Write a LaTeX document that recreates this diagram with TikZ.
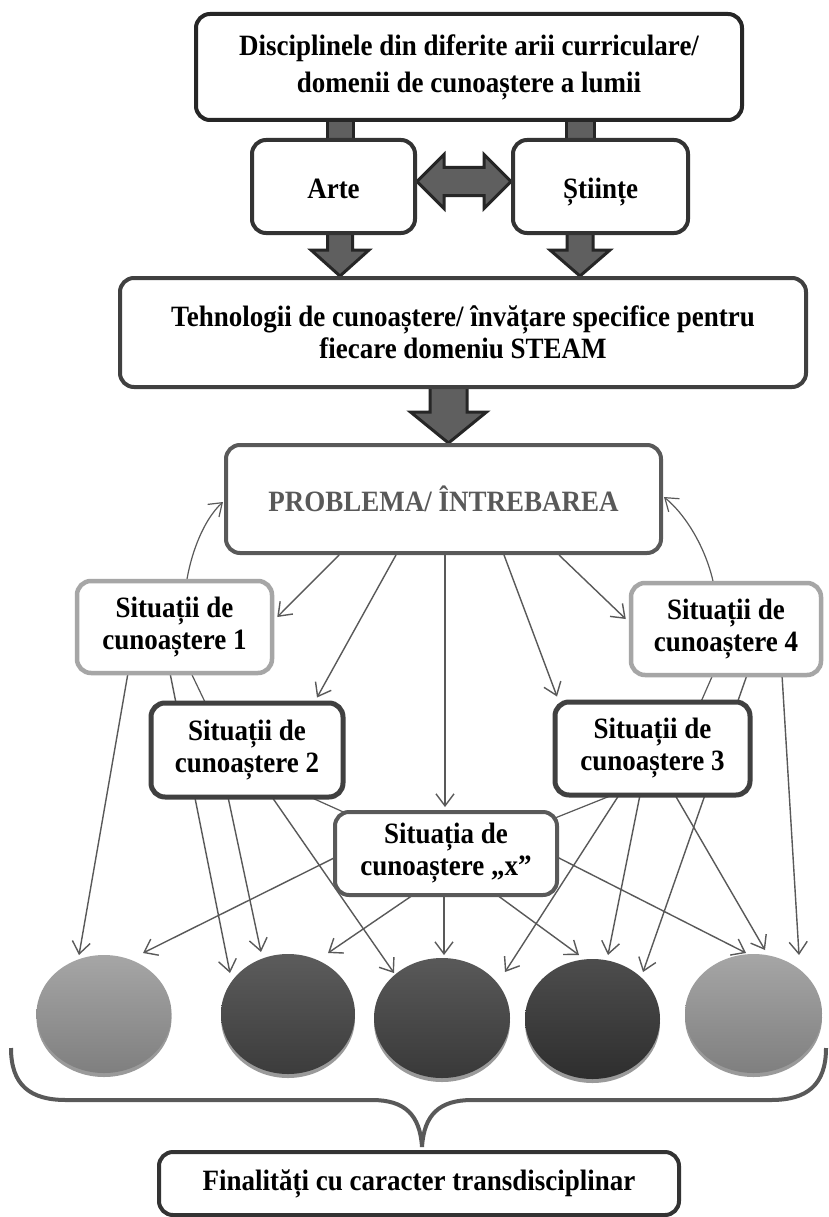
\documentclass[tikz,border=0pt]{standalone}
\usepackage{fontspec}
\setmainfont{Liberation Serif}[FakeStretch=0.915]
\usetikzlibrary{shapes.geometric,arrows.meta,calc}
\pgfdeclarelayer{bg}
\pgfdeclarelayer{paper}
\pgfsetlayers{paper,bg,main}
\definecolor{c26}{HTML}{262626}
\definecolor{c33}{HTML}{333333}
\definecolor{c40}{HTML}{404040}
\definecolor{c59}{HTML}{595959}
\definecolor{c5f}{HTML}{5F5F5F}
\definecolor{cA6}{HTML}{A6A6A6}
\definecolor{c99}{HTML}{9A9A9A}
\definecolor{eLt}{HTML}{A6A6A6}
\definecolor{eLb}{HTML}{7F7F7F}
\definecolor{eAt}{HTML}{5C5C5C}
\definecolor{eAb}{HTML}{3C3C3C}
\definecolor{eBt}{HTML}{595959}
\definecolor{eBb}{HTML}{393939}
\definecolor{eCt}{HTML}{4D4D4D}
\definecolor{eCb}{HTML}{2E2E2E}
\newcommand\downblock[5]{%
  \draw[blockarr] ($(#1)+(-#3,0)$) -- ($(#2)+(-#3,-#5)$) -- ($(#2)+(-#4,-#5)$) -- (#2)
    -- ($(#2)+(#4,-#5)$) -- ($(#2)+(#3,-#5)$) -- ($(#1)+(#3,0)$) -- cycle;}
\begin{document}
\begin{tikzpicture}[x=1pt,y=-1pt,
  box/.style={draw, rounded corners=14pt, fill=white, align=center, inner sep=0pt,
    line width=4pt, font=\bfseries\fontsize{29.5pt}{32pt}\selectfont},
  conn/.style={draw=c59, line width=1.4pt, -{Straight Barb[length=12pt,width=18pt]}},
  cyc/.style={draw=c59, line width=1.2pt},
  blockarr/.style={fill=c5f, draw=c26, line width=3pt, line join=miter},
  ball/.style={ellipse, inner sep=0pt},
  rim/.style={fill=c99},
  bracestyle/.style={draw=c59, line width=4pt}]
\useasboundingbox (0,0) rectangle (828,1217);
\begin{pgfonlayer}{paper}
  \fill[white] (0,0) rectangle (828,1217);
\end{pgfonlayer}

% boxes
\node[box, draw=c26, minimum width=546pt, minimum height=106pt,
  font=\bfseries\fontsize{29.5pt}{37pt}\selectfont] (top) at (469,67)
  {Disciplinele din diferite arii curriculare/\\domenii de cunoaștere a lumii};
\node[box, draw=c33, minimum width=163pt, minimum height=93pt, text height=24pt, text depth=0pt] (arte) at (333.5,186.5) {Arte};
\node[box, draw=c33, minimum width=175pt, minimum height=93pt, text height=24pt, text depth=0pt] (stiinte) at (600.5,186.5) {Științe};
\node[box, draw=c40, minimum width=686pt, minimum height=109pt] (tech) at (463,332.5)
  {Tehnologii de cunoaștere/ învățare specifice pentru\\fiecare domeniu STEAM};
\node[box, draw=c59, text=c59, minimum width=435pt, minimum height=108pt] (pb) at (443.5,499)
  {PROBLEMA/ ÎNTREBAREA};
\node[box, draw=cA6, line width=4.5pt, minimum width=195pt, minimum height=92pt] (s1) at (174.5,627)
  {Situații de\\cunoaștere 1};
\node[box, draw=cA6, line width=4.5pt, minimum width=190pt, minimum height=92pt] (s4) at (726,629)
  {Situații de\\cunoaștere 4};
\node[box, draw=c40, line width=5pt, minimum width=192pt, minimum height=94pt] (s2) at (247,750)
  {Situații de\\cunoaștere 2};
\node[box, draw=c40, line width=5pt, minimum width=195pt, minimum height=93pt] (s3) at (652.5,748.5)
  {Situații de\\cunoaștere 3};
\node[box, draw=c59, minimum width=222pt, minimum height=83pt] (sx) at (446,853.5)
  {Situația de\\cunoaștere „x”};
\node[box, draw=c33, minimum width=520pt, minimum height=63pt] (fin) at (419,1183.5)
  {Finalități cu caracter transdisciplinar};

% balls
\node[ball, minimum width=135pt, minimum height=118pt, top color=eLt, bottom color=eLb] (e1) at (104,1014) {};
\node[ball, minimum width=134pt, minimum height=120pt, top color=eAt, bottom color=eAb] (e2) at (288,1014) {};
\node[ball, minimum width=136pt, minimum height=120pt, top color=eBt, bottom color=eBb] (e3) at (442,1018) {};
\node[ball, minimum width=135pt, minimum height=120pt, top color=eCt, bottom color=eCb] (e4) at (592.5,1019) {};
\node[ball, minimum width=137pt, minimum height=119pt, top color=eLt, bottom color=eLb] (e5) at (753.5,1013.5) {};

% brace
\coordinate (bl) at ($(e1)+(-93,34)$);
\coordinate (br) at ($(e5)+(72.5,34.5)$);
\coordinate (cusp) at ($(fin.north)+(3,-3)$);
\draw[bracestyle] (bl) .. controls (11,1085) and (30,1100) .. (66,1100) -- (372,1100)
  .. controls (405,1100) and (420,1115) .. (cusp)
  .. controls (424,1115) and (439,1100) .. (472,1100) -- (771,1100)
  .. controls (807,1100) and (826,1085) .. (br);

\begin{pgfonlayer}{bg}
  % rims under balls
  \fill[rim] ($(e1)+(0,4)$) ellipse [x radius=67.5pt, y radius=59pt];
  \fill[rim] ($(e2)+(0,4)$) ellipse [x radius=67pt, y radius=60pt];
  \fill[rim] ($(e3)+(0,4)$) ellipse [x radius=68pt, y radius=60pt];
  \fill[rim] ($(e4)+(0,4)$) ellipse [x radius=67.5pt, y radius=60pt];
  \fill[rim] ($(e5)+(0,4)$) ellipse [x radius=68.5pt, y radius=59.5pt];

  % block arrows
  \coordinate (aTop) at ($(arte.south)+(6.5,-3)$);
  \coordinate (aTip) at (aTop |- tech.north);
  \coordinate (sTop) at ($(stiinte.south)+(-20.5,-3)$);
  \coordinate (sTip) at (sTop |- tech.north);
  \coordinate (stA1) at (aTop |- top.south);
  \coordinate (stA2) at (aTop |- arte.north);
  \coordinate (stS1) at (sTop |- top.south);
  \coordinate (stS2) at (sTop |- stiinte.north);
  \draw[blockarr] ($(stA1)+(-13,-4)$) rectangle ($(stA2)+(13,6)$);
  \draw[blockarr] ($(stS1)+(-14,-4)$) rectangle ($(stS2)+(14,6)$);
  \downblock{aTop}{aTip}{12.5}{29}{26}
  \downblock{sTop}{sTip}{13}{30}{26}
  \coordinate (bTop) at ($(pb.north |- tech.south)+(5,-3)$);
  \coordinate (bTip) at ($(pb.north)+(5,0)$);
  \downblock{bTop}{bTip}{18.5}{38}{31}
  \coordinate (L) at ($(arte.east)+(0,-5)$);
  \coordinate (R) at ($(stiinte.west)+(0,-5)$);
  \draw[blockarr] (L) -- ($(L)+(27,-27)$) -- ($(L)+(27,-14)$) -- ($(R)+(-27,-14)$)
    -- ($(R)+(-27,-27)$) -- (R) -- ($(R)+(-27,27)$) -- ($(R)+(-27,14)$)
    -- ($(L)+(27,14)$) -- ($(L)+(27,27)$) -- cycle;

  % problem arrows
  \coordinate (pbx) at ($(pb.south |- sx.north)+(1.5,-3)$);
  \draw[conn] ($(pb.south)+(-104.5,0)$) -- ($(s1.east)+(3,-10)$);
  \draw[conn] ($(pb.south)+(-47.5,0)$) -- ($(s2.north)+(70,-3)$);
  \draw[conn] ($(pb.south)+(1.5,0)$) -- (pbx);
  \draw[conn] ($(pb.south)+(60.5,0)$) -- ($(s3.north)+(-95.5,-3)$);
  \draw[conn] ($(pb.south)+(115.5,0)$) -- ($(s4.west)+(-3,-10)$);

  % cycle curves
  \draw[cyc] ($(sx)+(-86,-34)$) -- ($(s2)+(33,33.5)$);
  \draw[cyc] ($(s1)+(8,28)$) -- ($(s2)+(-31,-25)$);
  \draw[cyc, -{Straight Barb[length=12pt,width=17pt]}] ($(s1)+(10,-27)$)
    .. controls +(2.5,-40) and +(-20,18) .. ($(pb.west)+(-1,3)$);
  \draw[cyc] ($(sx)+(84,-25.5)$) -- ($(s3)+(-12.5,35.5)$);
  \draw[cyc] ($(s3)+(40.5,-28.5)$) -- ($(s4)+(-4.5,26)$);
  \draw[cyc, -{Straight Barb[length=12pt,width=17pt]}] ($(s4)+(-10,-27)$)
    .. controls +(-2,-37) and +(28,23) .. ($(pb.east)+(1,-2)$);

  % arrows to balls
  \draw[conn] ($(s1)+(-46.5,46)$) -- ($(e1)+(-25,-59)$);
  \draw[conn] ($(sx)+(-110,3.5)$) -- ($(e1)+(39,-61)$);
  \draw[conn] ($(s1)+(-4.5,46)$) -- ($(e2)+(-58,-41)$);
  \draw[conn] ($(s2)+(-19,47)$) -- ($(e2)+(-27,-62)$);
  \draw[conn] ($(s2)+(25,47)$) -- ($(e3)+(-48,-45)$);
  \draw[conn] ($(sx)+(-33,41.5)$) -- ($(e2)+(40,-61)$);
  \draw[conn] ($(sx)+(-2,41.5)$) -- ($(e3)+(2,-63)$);
  \draw[conn] ($(sx)+(51,41.5)$) -- ($(e4)+(-13.5,-64)$);
  \draw[conn] ($(sx)+(111,3.5)$) -- ($(e5)+(-7.5,-60.5)$);
  \draw[conn] ($(s3)+(-33.5,46.5)$) -- ($(e3)+(63,-46)$);
  \draw[conn] ($(s3)+(-12.5,46.5)$) -- ($(e4)+(15.5,-64)$);
  \draw[conn] ($(s3)+(22.5,46.5)$) -- ($(e5)+(11.5,-63.5)$);
  \draw[conn] ($(s4)+(21,46)$) -- ($(e4)+(50.5,-47)$);
  \draw[conn] ($(s4)+(56,46)$) -- ($(e5)+(45.5,-58.5)$);
\end{pgfonlayer}
\end{tikzpicture}
\end{document}
